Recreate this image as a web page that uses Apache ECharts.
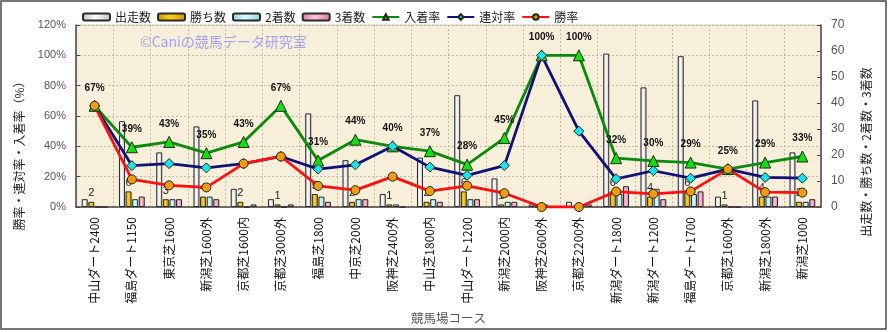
<!DOCTYPE html>
<html>
<head>
<meta charset="utf-8">
<script src="https://cdn.jsdelivr.net/npm/echarts@6/dist/echarts.min.js"></script>
<style>
  html, body { margin: 0; padding: 0; background: #ffffff; }
  #chart { width: 889px; height: 332px; }
</style>
</head>
<body>
<div id="chart"></div>
<script>
// Course names
const courses = [
  '中山ダート2400', '福島ダート1150', '東京芝1600', '新潟芝1600外', '京都芝1600内',
  '京都芝3000外', '福島芝1800', '中京芝2000', '阪神芝2400外', '中山芝1800内',
  '中山ダート1200', '新潟芝2000内', '阪神芝2600外', '京都芝2200外', '新潟ダート1800',
  '新潟ダート1200', '福島ダート1700', '京都芝1600外', '新潟芝1800外', '新潟芝1000'
];

// Counts (right axis)
const runs    = [3, 33, 21, 31, 7, 3, 36, 18, 5, 19, 43, 11, 1, 2, 59, 46, 58, 4, 41, 21];
const wins    = [2, 6, 3, 4, 2, 1, 5, 2, 1, 2, 6, 1, 0, 0, 6, 4, 6, 1, 4, 2];
const seconds = [0, 3, 3, 4, 0, 0, 4, 3, 1, 3, 3, 2, 1, 1, 5, 7, 5, 0, 4, 2];
const thirds  = [0, 4, 3, 3, 1, 1, 2, 3, 0, 2, 3, 2, 0, 1, 8, 3, 6, 0, 4, 3];

// Rates in percent (left axis)
const placeRate    = [66.7, 39.4, 42.9, 35.48, 42.9, 66.7, 30.6, 44.4, 40, 36.8, 27.9, 45.45, 100, 100, 32.2, 30.4, 29.3, 25, 29.3, 33.3];
const quinellaRate = [66.7, 27.3, 28.6, 25.8, 28.6, 33.3, 25.0, 27.8, 40, 26.3, 20.9, 27.3, 100, 50, 18.6, 23.9, 19.0, 25, 19.5, 19.0];
const winRate      = [66.7, 18.2, 14.3, 12.9, 28.6, 33.3, 13.9, 11.1, 20, 10.5, 14.0, 9.1, 0, 0, 10.2, 8.7, 10.3, 25, 9.8, 9.5];

// Axis ranges
const rateMax = 120, rateStep = 20;
const countMax = 70, countStep = 10;

const FONT = '"Noto Sans CJK JP", "Noto Sans", sans-serif';

function cylinder(edge, mid) {
  return {
    type: 'linear', x: 0, y: 0, x2: 1, y2: 0,
    colorStops: [
      { offset: 0, color: edge },
      { offset: 0.45, color: mid },
      { offset: 1, color: edge }
    ]
  };
}

function barSeries(name, data, edge, mid, withLabel) {
  return {
    name: name,
    type: 'bar',
    yAxisIndex: 1,
    data: data,
    barWidth: 6,
    barGap: '10%',
    itemStyle: { color: cylinder(edge, mid), borderColor: '#2a2a2a', borderWidth: 1 },
    label: withLabel ? {
      show: true, position: 'top', distance: 3,
      fontSize: 11, color: '#222', fontFamily: 'Liberation Sans, Arial, sans-serif',
      formatter: p => (p.value > 0 ? String(p.value) : '')
    } : { show: false },
    emphasis: { disabled: true },
    z: 2
  };
}

function lineSeries(name, data, lineColor, symbol, symbolColor, size, withLabel) {
  return {
    name: name,
    type: 'line',
    yAxisIndex: 0,
    data: data,
    symbol: symbol,
    symbolSize: size,
    lineStyle: { color: lineColor, width: 2.8 },
    itemStyle: { color: symbolColor, borderColor: '#1e2a10', borderWidth: 1 },
    label: withLabel ? {
      show: true, position: 'top', distance: 7,
      fontSize: 10, fontWeight: 'bold', color: '#111',
      fontFamily: '"Liberation Sans Narrow", "Liberation Sans", Arial, sans-serif',
      formatter: p => Math.round(p.value) + '%'
    } : { show: false },
    emphasis: { disabled: true },
    z: 3
  };
}

const chart = echarts.init(document.getElementById('chart'), null, { renderer: 'canvas' });

chart.setOption({
  animation: false,
  backgroundColor: '#ffffff',
  textStyle: { fontFamily: FONT },
  legend: {
    top: 6, left: 77,
    itemWidth: 27, itemHeight: 7, itemGap: 6,
    textStyle: { fontSize: 12, color: '#222', fontFamily: FONT },
    data: ['出走数', '勝ち数', '2着数', '3着数', '入着率', '連対率', '勝率']
  },
  grid: {
    left: 76, right: 68, top: 25, bottom: 125,
    containLabel: false,
    outerBoundsMode: 'none',
    show: true,
    backgroundColor: '#f8efda',
    borderColor: '#c9c9c9',
    borderWidth: 1
  },
  xAxis: {
    type: 'category',
    data: courses,
    boundaryGap: true,
    name: '競馬場コース',
    nameLocation: 'middle',
    nameGap: 104,
    nameTextStyle: { fontSize: 12.5, color: '#555', fontFamily: FONT },
    axisLine: { show: true, lineStyle: { color: '#4a4a4a', width: 1.5 } },
    axisTick: { show: false },
    axisLabel: { rotate: 90, margin: 10, fontSize: 12, color: '#111', fontFamily: FONT, interval: 0 },
    splitLine: { show: true, interval: 0, lineStyle: { color: '#c2b9a6', type: [2, 2], width: 1 } }
  },
  yAxis: [
    {
      type: 'value',
      min: 0, max: rateMax, interval: rateStep,
      position: 'left',
      axisLine: { show: true, lineStyle: { color: '#4a4a4a', width: 1.5 } },
      axisTick: { show: true, inside: true, length: 4, lineStyle: { color: '#4a4a4a' } },
      axisLabel: { formatter: '{value}%', fontSize: 11, color: '#555', margin: 10, fontFamily: 'Liberation Sans, Arial, sans-serif' },
      splitLine: { show: true, lineStyle: { color: '#c2b9a6', type: [2, 2], width: 1 } }
    },
    {
      type: 'value',
      min: 0, max: countMax, interval: countStep,
      position: 'right',
      axisLine: { show: true, lineStyle: { color: '#4a4a4a', width: 1.5 } },
      axisTick: { show: true, inside: true, length: 4, lineStyle: { color: '#4a4a4a' } },
      axisLabel: { fontSize: 12, color: '#555', margin: 10, fontFamily: 'Liberation Sans, Arial, sans-serif' },
      splitLine: { show: false }
    }
  ],
  graphic: [
    {
      type: 'rect', silent: true, z: 100,
      shape: { x: 1, y: 1, width: 885, height: 328 },
      style: { fill: 'none', stroke: '#4a4a4a', lineWidth: 1.5 }
    },
    {
      type: 'text', silent: true, z: 1,
      left: 140, top: 35,
      style: { text: '©Caniの競馬データ研究室', font: '14px ' + FONT, fill: '#a3a3f5' }
    },
    {
      type: 'text', silent: true,
      x: 19, y: 153, rotation: Math.PI / 2,
      style: { text: '勝率・連対率・入着率（%）', font: '12px ' + FONT, fill: '#222', align: 'center', verticalAlign: 'middle' }
    },
    {
      type: 'text', silent: true,
      x: 866, y: 152, rotation: Math.PI / 2,
      style: { text: '出走数・勝ち数・2着数・3着数', font: '12px ' + FONT, fill: '#222', align: 'center', verticalAlign: 'middle' }
    }
  ],
  series: [
    barSeries('出走数', runs, '#bdbdbd', '#ffffff', false),
    barSeries('勝ち数', wins, '#c99400', '#ffd21a', true),
    barSeries('2着数', seconds, '#8fd3dc', '#dcfbfb', false),
    barSeries('3着数', thirds, '#d9789f', '#ffc4de', false),
    lineSeries('入着率', placeRate, '#0a8a0a', 'triangle', '#13e013', 11, true),
    lineSeries('連対率', quinellaRate, '#10107a', 'diamond', '#19e3ef', 10, false),
    lineSeries('勝率', winRate, '#ff1010', 'circle', '#f29a12', 9, false)
  ]
});
</script>
</body>
</html>
